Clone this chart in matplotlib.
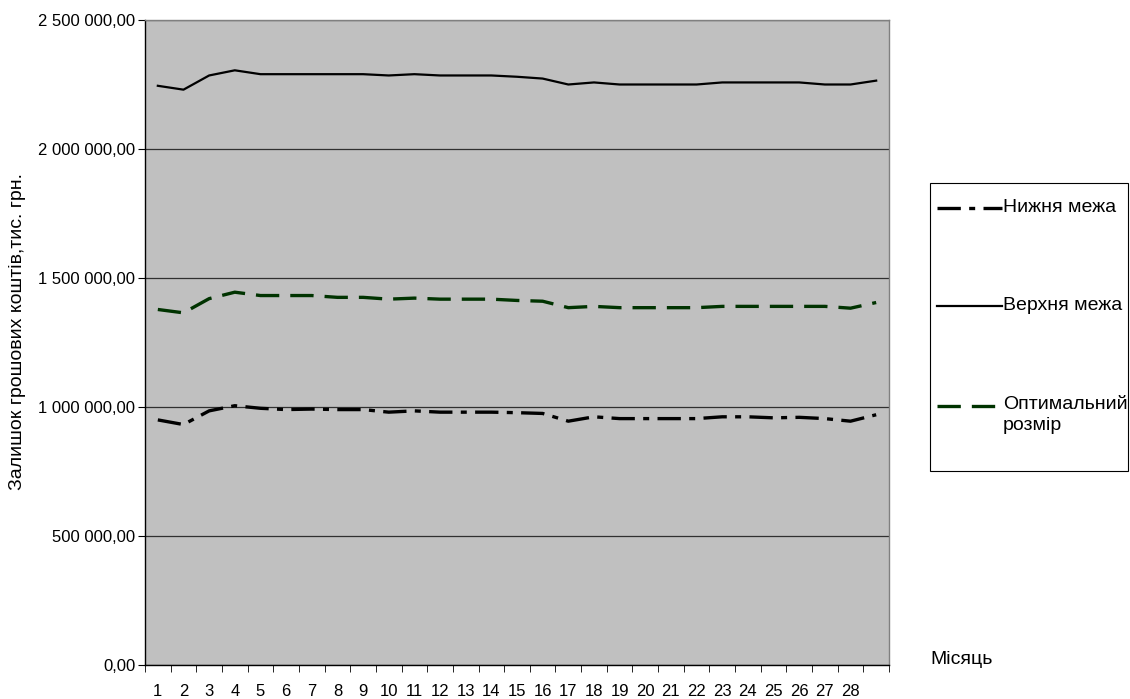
import matplotlib
matplotlib.use("Agg")
import matplotlib.pyplot as plt
from matplotlib.ticker import FuncFormatter, FixedLocator
from matplotlib.lines import Line2D
from matplotlib.patches import Rectangle

plt.rcParams['font.family'] = ['Liberation Sans', 'DejaVu Sans']

months = list(range(1, 30))
tick_labels = [str(m) for m in range(1, 29)] + [""]

upper = [2245000, 2230000, 2285000, 2305000, 2290000, 2290000, 2290000, 2290000, 2290000, 2285000,
         2290000, 2285000, 2285000, 2285000, 2280000, 2273000, 2250000, 2258000, 2250000, 2250000,
         2250000, 2250000, 2258000, 2258000, 2258000, 2258000, 2250000, 2250000, 2265000]
optimal = [1378000, 1365000, 1420000, 1445000, 1432000, 1432000, 1432000, 1425000, 1425000, 1418000,
           1422000, 1418000, 1418000, 1418000, 1413000, 1410000, 1385000, 1390000, 1385000, 1385000,
           1385000, 1385000, 1390000, 1390000, 1390000, 1390000, 1390000, 1383000, 1405000]
lower = [950000, 932000, 985000, 1005000, 995000, 990000, 992000, 990000, 990000, 980000,
         985000, 980000, 980000, 980000, 978000, 975000, 945000, 962000, 955000, 955000,
         955000, 955000, 962000, 962000, 958000, 960000, 955000, 945000, 970000]
series_names = ['Нижня межа', 'Верхня межа', 'Оптимальний\nрозмір']

W, H = 1130, 699
fig = plt.figure(figsize=(W / 100, H / 100), dpi=100)
ax = fig.add_axes([145 / W, 1 - 665 / H, (889 - 145) / W, (665 - 20) / H])
ax.set_facecolor('#C0C0C0')

low_style = dict(color='black', lw=2.4, dashes=(7, 2.5, 1.8, 2.5))
up_style = dict(color='black', lw=1.6)
opt_style = dict(color='#003300', lw=2.4, dashes=(7, 3.3))

ax.plot(months, lower, **low_style)
ax.plot(months, upper, **up_style)
ax.plot(months, optimal, **opt_style)

ax.set_xlim(0.5, 29.5)
ax.set_ylim(0, 2500000)
ax.set_yticks([0, 500000, 1000000, 1500000, 2000000, 2500000])
ax.yaxis.set_major_formatter(FuncFormatter(lambda v, p: f"{v:,.2f}".replace(",", " ").replace(".", ",")))
ax.grid(axis='y', color='#303030', lw=0.9)
ax.set_axisbelow(True)

ax.set_xticks(months)
ax.set_xticklabels(tick_labels)
ax.xaxis.set_minor_locator(FixedLocator([m + 0.5 for m in range(0, 30)]))
ax.tick_params(axis='x', which='major', length=0, pad=14, labelsize=12)
ax.tick_params(axis='x', which='minor', length=5, direction='out', color='black')
ax.tick_params(axis='y', length=5, direction='out', labelsize=12, pad=2)

for s in ['top', 'right']:
    ax.spines[s].set_color('#808080')
    ax.spines[s].set_linewidth(1.0)
for s in ['left', 'bottom']:
    ax.spines[s].set_color('black')
    ax.spines[s].set_linewidth(1.0)

fig.text(18 / W, 1 - 332 / H, 'Залишок грошових коштів,тис. грн.', fontsize=14,
         rotation=90, ha='center', va='center')
fig.text(930 / W, 1 - 660 / H, 'Місяць', fontsize=14, ha='left', va='center')

# legend box drawn manually
fig.add_artist(Rectangle((930 / W, 1 - 471 / H), (1128 - 930) / W, (471 - 183) / H,
                         transform=fig.transFigure, facecolor='white', edgecolor='black', lw=0.8))
styles = [low_style, up_style, opt_style]
ys = [208, 306, 406]
for st, yy, name in zip(styles, ys, series_names):
    fig.add_artist(Line2D([937 / W, 1002 / W], [1 - yy / H, 1 - yy / H], transform=fig.transFigure, **st))
    fig.text(1003 / W, 1 - yy / H, name, fontsize=14, ha='left', va='top' if '\n' in name else 'center',
             linespacing=1.3, position=(1003 / W, 1 - (yy - 10) / H) if '\n' in name else (1003 / W, 1 - yy / H))

fig.savefig('out.png', dpi=100, facecolor='white')
